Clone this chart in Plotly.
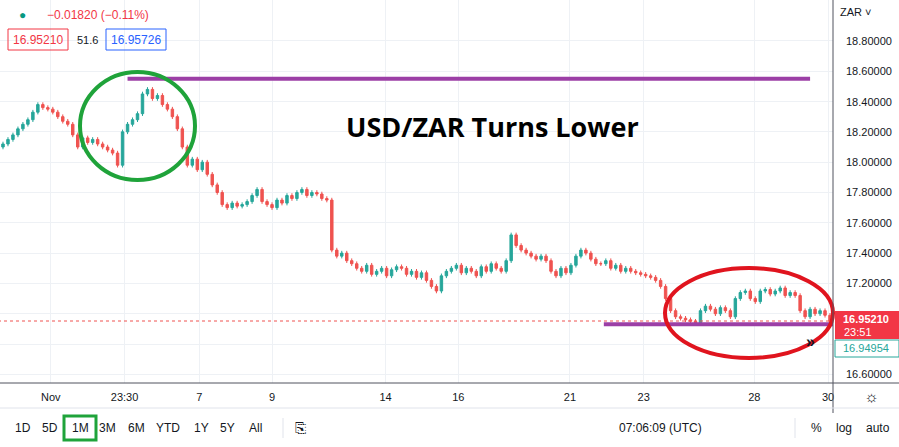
import plotly.graph_objects as go

# closes, one candle every 5 px
closes = [
    18.12, 18.15, 18.18, 18.22, 18.25, 18.28, 18.33, 18.38, 18.36, 18.35,
    18.33, 18.30, 18.27, 18.25, 18.18, 18.10, 18.16, 18.13, 18.15, 18.12,
    18.10, 18.08, 18.06, 17.98, 18.20, 18.25, 18.28, 18.32, 18.45, 18.48,
    18.42, 18.44, 18.38, 18.35, 18.30, 18.22, 18.10, 17.98, 18.02, 17.95,
    18.00, 17.92, 17.85, 17.80, 17.72, 17.70, 17.73, 17.71, 17.72, 17.74,
    17.78, 17.82, 17.74, 17.72, 17.70, 17.75, 17.73, 17.78, 17.76, 17.80,
    17.82, 17.78, 17.80, 17.79, 17.76, 17.75, 17.42, 17.38, 17.40, 17.35,
    17.33, 17.30, 17.28, 17.32, 17.26, 17.28, 17.30, 17.25, 17.29, 17.31,
    17.30, 17.26, 17.28, 17.24, 17.27, 17.22, 17.18, 17.15, 17.25, 17.28,
    17.30, 17.32, 17.27, 17.30, 17.28, 17.25, 17.31, 17.28, 17.33, 17.30,
    17.28, 17.35, 17.52, 17.45, 17.42, 17.40, 17.38, 17.36, 17.38, 17.35,
    17.28, 17.25, 17.30, 17.27, 17.32, 17.38, 17.42, 17.40, 17.36, 17.33,
    17.33, 17.35, 17.30, 17.32, 17.28, 17.30, 17.28, 17.27, 17.26, 17.25,
    17.24, 17.22, 17.18, 17.10, 17.02, 16.98, 16.97, 16.96, 16.95, 16.94,
    17.02, 17.05, 17.03, 17.00, 17.04, 17.02, 16.98, 17.10, 17.14, 17.15,
    17.10, 17.08, 17.15, 17.16, 17.13, 17.15, 17.17, 17.12, 17.14, 17.12,
    17.02, 16.98, 17.03, 17.00, 17.02, 16.99, 16.95,
]
first_open = 18.10
tick_pos = [48, 122, 197, 270, 384, 457, 569, 643, 754, 828]
tick_text = ["Nov", "23:30", "7", "9", "14", "16", "21", "23", "28", "30"]
price_ticks = [16.6, 16.8, 17.0, 17.2, 17.4, 17.6, 17.8, 18.0, 18.2, 18.4, 18.6, 18.8]
price_labels = [16.6, 17.2, 17.4, 17.6, 17.8, 18.0, 18.2, 18.4, 18.6, 18.8]
last_price = 16.9521
top_level = 18.55
bottom_level = 16.93

xs = [i * 5 for i in range(len(closes))]
opens = [first_open] + closes[:-1]
highs = [max(o, c) + 0.015 for o, c in zip(opens, closes)]
lows = [min(o, c) - 0.015 for o, c in zip(opens, closes)]

W, H = 899, 447
PLOT_R = 833 / W
Y0 = (H - 383) / H

fig = go.Figure()
fig.add_trace(go.Candlestick(
    x=xs, open=opens, high=highs, low=lows, close=closes,
    increasing=dict(line=dict(color="#26a69a", width=1), fillcolor="#26a69a"),
    decreasing=dict(line=dict(color="#ef5350", width=1), fillcolor="#ef5350"),
    whiskerwidth=0, showlegend=False, hoverinfo="skip",
))

shapes = [
    dict(type="line", xref="x", yref="y", x0=-5, x1=833, y0=last_price, y1=last_price,
         line=dict(color="#ef5350", width=1, dash="dot")),
    dict(type="line", xref="x", yref="y", x0=125, x1=810, y0=top_level, y1=top_level,
         line=dict(color="#9c3fa6", width=4)),
    dict(type="line", xref="x", yref="y", x0=603, x1=833, y0=bottom_level, y1=bottom_level,
         line=dict(color="#9c3fa6", width=4)),
    dict(type="circle", xref="paper", yref="paper", x0=80 / W, x1=195 / W,
         y0=1 - 180 / H, y1=1 - 72 / H, line=dict(color="#1fa33a", width=4)),
    dict(type="circle", xref="paper", yref="paper", x0=665 / W, x1=833 / W,
         y0=1 - 358 / H, y1=1 - 268 / H, line=dict(color="#e0141e", width=4)),
    # price-axis separator and time-axis line
    dict(type="line", xref="paper", yref="paper", x0=PLOT_R, x1=PLOT_R, y0=Y0 - 30 / H, y1=1,
         line=dict(color="#50535e", width=1)),
    dict(type="line", xref="paper", yref="paper", x0=0, x1=1, y0=Y0, y1=Y0,
         line=dict(color="#50535e", width=1)),
    dict(type="line", xref="paper", yref="paper", x0=0, x1=1, y0=1 - 408 / H, y1=1 - 408 / H,
         line=dict(color="#e0e3eb", width=1)),
    # right price labels
    dict(type="rect", xref="paper", yref="paper", x0=835 / W, x1=1, y0=1 - 339 / H, y1=1 - 311 / H,
         fillcolor="#f23645", line=dict(width=0)),
    dict(type="rect", xref="paper", yref="paper", x0=835 / W, x1=1, y0=1 - 357 / H, y1=1 - 340 / H,
         fillcolor="white", line=dict(color="#26a69a", width=1)),
    # 1M highlight box
    dict(type="rect", xref="paper", yref="paper", x0=64 / W, x1=96 / W, y0=1 - 440 / H, y1=1 - 416 / H,
         line=dict(color="#1fa33a", width=3)),
    # legend boxes
    dict(type="rect", xref="paper", yref="paper", x0=8 / W, x1=68 / W, y0=1 - 50 / H, y1=1 - 29 / H,
         line=dict(color="#f23645", width=1)),
    dict(type="rect", xref="paper", yref="paper", x0=106 / W, x1=166 / W, y0=1 - 50 / H, y1=1 - 29 / H,
         line=dict(color="#2962ff", width=1)),
    dict(type="line", xref="paper", yref="paper", x0=283 / W, x1=283 / W, y0=1 - 438 / H, y1=1 - 418 / H,
         line=dict(color="#e0e3eb", width=1)),
    dict(type="line", xref="paper", yref="paper", x0=795 / W, x1=795 / W, y0=1 - 438 / H, y1=1 - 418 / H,
         line=dict(color="#e0e3eb", width=1)),
]

F = "Liberation Sans"
ann = [
    dict(x=492 / W, y=1 - 126 / H, text="<b>USD/ZAR Turns Lower</b>", font=dict(size=27, color="black", family="Open Sans")),
    dict(x=22 / W, y=1 - 15 / H, text="●", font=dict(size=12, color="#089981")),
    dict(x=98 / W, y=1 - 15 / H, text="−0.01820 (−0.11%)", font=dict(size=12, color="#f23645")),
    dict(x=38 / W, y=1 - 40 / H, text="16.95210", font=dict(size=12, color="#f23645")),
    dict(x=87 / W, y=1 - 40 / H, text="51.6", font=dict(size=11, color="#131722")),
    dict(x=136 / W, y=1 - 40 / H, text="16.95726", font=dict(size=12, color="#2962ff")),
    dict(x=855 / W, y=1 - 12 / H, text="ZAR ˅", font=dict(size=11, color="#131722")),
    dict(x=866 / W, y=1 - 319 / H, text="<b>16.95210</b>", font=dict(size=11, color="white")),
    dict(x=858 / W, y=1 - 332 / H, text="23:51", font=dict(size=11, color="white")),
    dict(x=866 / W, y=1 - 348 / H, text="16.94954", font=dict(size=11, color="#26a69a")),
    dict(x=810 / W, y=1 - 341 / H, text="<b>»</b>", font=dict(size=16, color="#131722")),
    dict(x=871 / W, y=1 - 396 / H, text="☼", font=dict(size=16, color="#131722")),
    dict(x=660 / W, y=1 - 428 / H, text="07:06:09 (UTC)", font=dict(size=12, color="#131722")),
    dict(x=816 / W, y=1 - 428 / H, text="%", font=dict(size=12, color="#131722")),
    dict(x=844 / W, y=1 - 428 / H, text="log", font=dict(size=12, color="#131722")),
    dict(x=878 / W, y=1 - 428 / H, text="auto", font=dict(size=12, color="#131722")),
    dict(x=300 / W, y=1 - 428 / H, text="⎘", font=dict(size=14, color="#131722")),
]
for lbl, px in zip(["1D", "5D", "1M", "3M", "6M", "YTD", "1Y", "5Y", "All"],
                   [23, 50, 80, 107, 136, 168, 201, 227, 255]):
    ann.append(dict(x=px / W, y=1 - 428 / H, text=lbl, font=dict(size=12, color="#131722")))
for p in price_labels:
    ann.append(dict(x=844 / W, y=p, yref="y", xanchor="left", text=f"{p:.5f}",
                    font=dict(size=11, color="#131722")))
for a in ann:
    a.setdefault("xref", "paper")
    a.setdefault("yref", "paper")
    a.setdefault("xanchor", "center")
    a.setdefault("yanchor", "middle")
    a.setdefault("showarrow", False)
    a["font"].setdefault("family", F)

fig.update_layout(
    width=W, height=H, margin=dict(l=0, r=0, t=0, b=0),
    paper_bgcolor="white", plot_bgcolor="white",
    xaxis=dict(domain=[0, PLOT_R], range=[-3, 833], tickvals=tick_pos, ticktext=tick_text,
               showgrid=True, gridcolor="#eef1f5", zeroline=False, rangeslider=dict(visible=False),
               ticks="", tickfont=dict(size=11, color="#131722", family=F), ticklabelstandoff=6),
    yaxis=dict(domain=[Y0, 1], range=[16.543, 19.07], tickvals=price_ticks, showticklabels=False,
               showgrid=True, gridcolor="#eef1f5", zeroline=False),
    shapes=shapes, annotations=ann,
)
fig.write_html("out.html", config={"displayModeBar": False},
               post_script="document.body.style.margin='0';")
